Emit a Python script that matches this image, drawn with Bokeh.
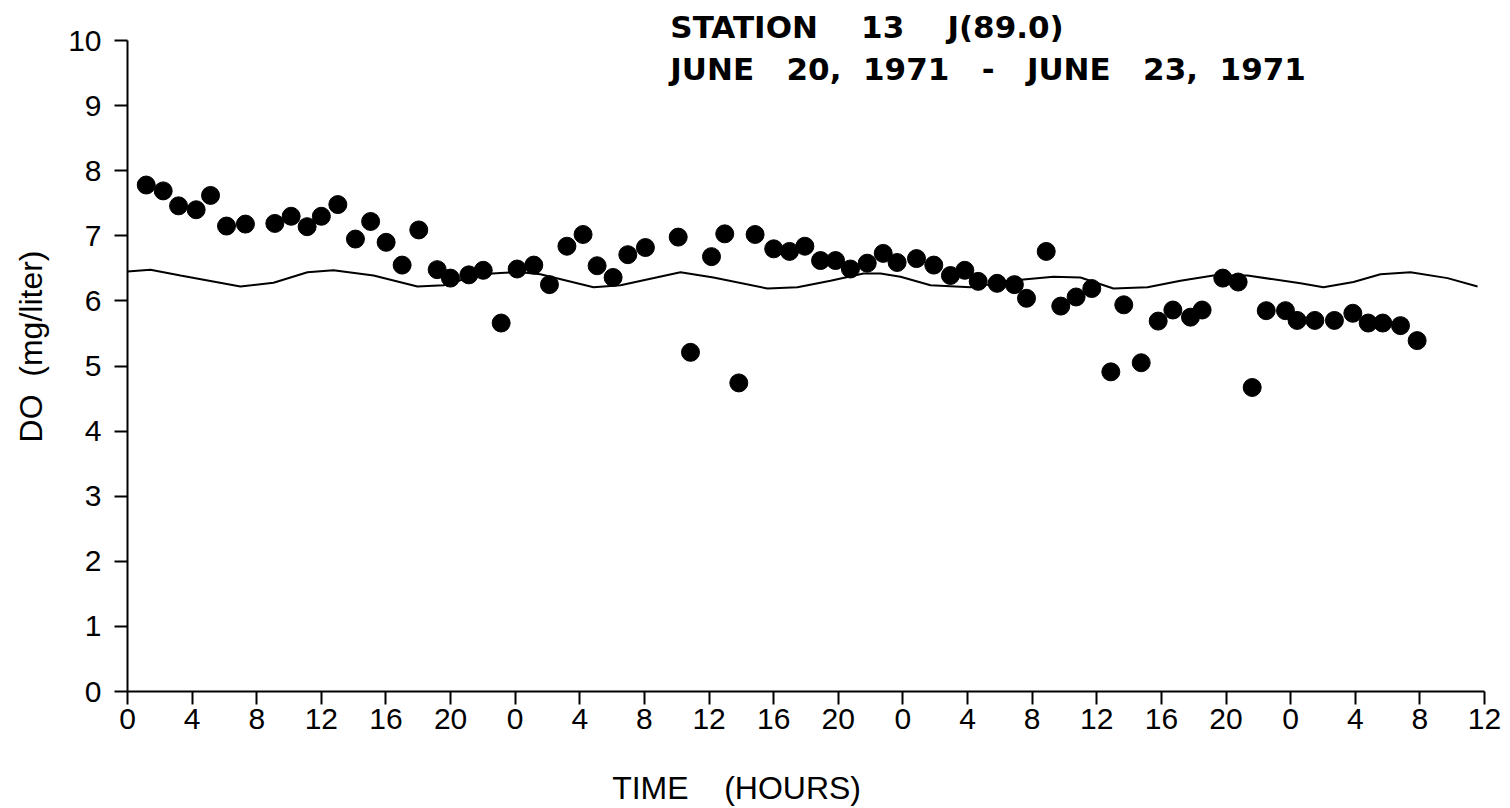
import math
from bokeh.plotting import figure
from bokeh.models import Range1d, Label, FixedTicker
from bokeh.embed import file_html
from bokeh.resources import INLINE

# Observed dissolved oxygen (hours from start, mg/liter)
obs_hours = [1.16, 2.21, 3.16, 4.25, 5.14, 6.13, 7.30, 9.12, 10.13, 11.12, 12.0, 13.02,
             14.11, 15.05, 16.01, 17.0, 18.03, 19.17, 19.99, 21.13, 22.02, 23.13, 24.12,
             25.15, 26.12, 27.2, 28.2, 29.07, 30.06, 30.97, 32.06, 34.09, 34.85, 36.15,
             36.97, 37.84, 38.85, 40.0, 40.98, 41.93, 42.9, 43.83, 44.75, 45.79, 46.78,
             47.64, 48.84, 49.91, 50.94, 51.83, 52.66, 53.83, 54.9, 55.65, 56.87, 57.77,
             58.72, 59.69, 60.87, 61.67, 62.75, 63.8, 64.71, 65.8, 66.52, 67.8, 68.75,
             69.62, 70.49, 71.68, 72.4, 73.5, 74.71, 75.85, 76.8, 77.7, 78.8, 79.83]
obs_do = [7.78, 7.69, 7.46, 7.40, 7.62, 7.15, 7.18, 7.19, 7.30, 7.14, 7.30, 7.48,
          6.95, 7.22, 6.90, 6.55, 7.09, 6.48, 6.35, 6.40, 6.47, 5.66, 6.49,
          6.55, 6.25, 6.84, 7.02, 6.54, 6.36, 6.71, 6.82, 6.98, 5.21, 6.68,
          7.03, 4.74, 7.02, 6.80, 6.76, 6.84, 6.62, 6.62, 6.49, 6.58, 6.73,
          6.59, 6.65, 6.55, 6.39, 6.47, 6.30, 6.27, 6.25, 6.04, 6.76, 5.92,
          6.06, 6.19, 4.91, 5.94, 5.05, 5.69, 5.86, 5.75, 5.86, 6.35, 6.29,
          4.67, 5.85, 5.85, 5.70, 5.70, 5.70, 5.81, 5.66, 5.66, 5.62, 5.39]

# Computed (model) curve
model_hours = [0.0, 1.42, 3.28, 6.99, 9.04, 11.14, 12.75, 15.23, 17.95, 19.56, 21.85,
               23.09, 24.33, 25.56, 28.85, 30.52, 34.23, 36.27, 39.62, 41.47, 43.52,
               45.56, 46.61, 47.85, 49.71, 52.18, 55.46, 57.32, 58.99, 61.03, 63.14,
               65.18, 67.22, 69.33, 72.61, 74.03, 75.89, 77.56, 79.42, 81.71, 83.57]
model_do = [6.45, 6.48, 6.39, 6.22, 6.28, 6.44, 6.47, 6.39, 6.22, 6.24, 6.41,
            6.43, 6.44, 6.41, 6.21, 6.24, 6.44, 6.36, 6.19, 6.21, 6.31,
            6.42, 6.42, 6.37, 6.24, 6.21, 6.33, 6.37, 6.36, 6.19, 6.21,
            6.31, 6.39, 6.39, 6.27, 6.21, 6.29, 6.41, 6.44, 6.35, 6.22]

x_ticks = list(range(0, 85, 4))
x_tick_labels = ["0", "4", "8", "12", "16", "20", "0", "4", "8", "12", "16", "20",
                 "0", "4", "8", "12", "16", "20", "0", "4", "8", "12"]
y_ticks = list(range(0, 11))
y_tick_labels = [str(v) for v in y_ticks]

NB = "\u00a0"  # non-breaking space keeps the wide word gaps of the original lettering
title_lines = ["STATION" + NB * 4 + "13" + NB * 4 + "J(89.0)",
               "JUNE" + NB * 3 + "20," + NB * 2 + "1971" + NB * 3 + "-" + NB * 3 +
               "JUNE" + NB * 3 + "23," + NB * 2 + "1971"]
x_title = "TIME" + NB * 4 + "(HOURS)"
y_title = "DO" + NB * 2 + "(mg/liter)"

FONT = "Liberation Sans"
TITLE_FONT = "DejaVu Sans"

# The frame fills the whole canvas; axes are pinned at 0 with bounds, so that
# every text can sit where the reference puts it.
PX_PER_H = 16.155
PX_PER_U = 65.1
x_range = Range1d(-127 / PX_PER_H, 84 + 26 / PX_PER_H)
y_range = Range1d(-117 / PX_PER_U, 10 + 40 / PX_PER_U)

p = figure(width=1510, height=808, x_range=x_range, y_range=y_range,
           output_backend="svg", toolbar_location=None,
           min_border_left=0, min_border_right=0, min_border_top=0,
           min_border_bottom=0)
p.background_fill_color = "white"
p.border_fill_color = "white"
p.outline_line_color = None
p.xgrid.visible = False
p.ygrid.visible = False

p.line(model_hours, model_do, line_color="black", line_width=2)
p.scatter(obs_hours, obs_do, size=18, fill_color="black", line_color="black")

for ax in (p.xaxis[0], p.yaxis[0]):
    ax.fixed_location = 0
    ax.axis_line_color = "black"
    ax.axis_line_width = 2
    ax.major_tick_line_color = "black"
    ax.major_tick_line_width = 2
    ax.major_tick_in = 0
    ax.major_tick_out = 13
    ax.minor_tick_line_color = None
    ax.major_label_text_font = FONT
    ax.major_label_text_font_size = "30px"
    ax.major_label_text_color = "black"

p.xaxis[0].bounds = (0, 84)
p.xaxis[0].ticker = FixedTicker(ticks=x_ticks)
p.xaxis[0].major_label_overrides = {t: l for t, l in zip(x_ticks, x_tick_labels)}
p.xaxis[0].major_label_standoff = 4

p.yaxis[0].bounds = (0, 10)
p.yaxis[0].ticker = FixedTicker(ticks=y_ticks)
p.yaxis[0].major_label_overrides = {t: l for t, l in zip(y_ticks, y_tick_labels)}
p.yaxis[0].major_label_standoff = 13

p.add_layout(Label(x=30.0, y=-1.48, text=x_title, text_font=FONT,
                   text_font_size="32px", text_baseline="middle", text_align="left",
                   text_color="black"))
p.add_layout(Label(x=-6.0, y=5.3, text=y_title, text_font=FONT, angle=math.pi / 2,
                   text_font_size="32px", text_baseline="middle", text_align="center",
                   text_color="black"))

p.add_layout(Label(x=33.6, y=10.2, text=title_lines[0], text_font=TITLE_FONT,
                   text_font_size="31px", text_font_style="bold",
                   text_baseline="middle", text_align="left", text_color="black"))
p.add_layout(Label(x=33.6, y=9.555, text=title_lines[1], text_font=TITLE_FONT,
                   text_font_size="31px", text_font_style="bold",
                   text_baseline="middle", text_align="left", text_color="black"))

open("out.html", "w").write(file_html(p, INLINE))
